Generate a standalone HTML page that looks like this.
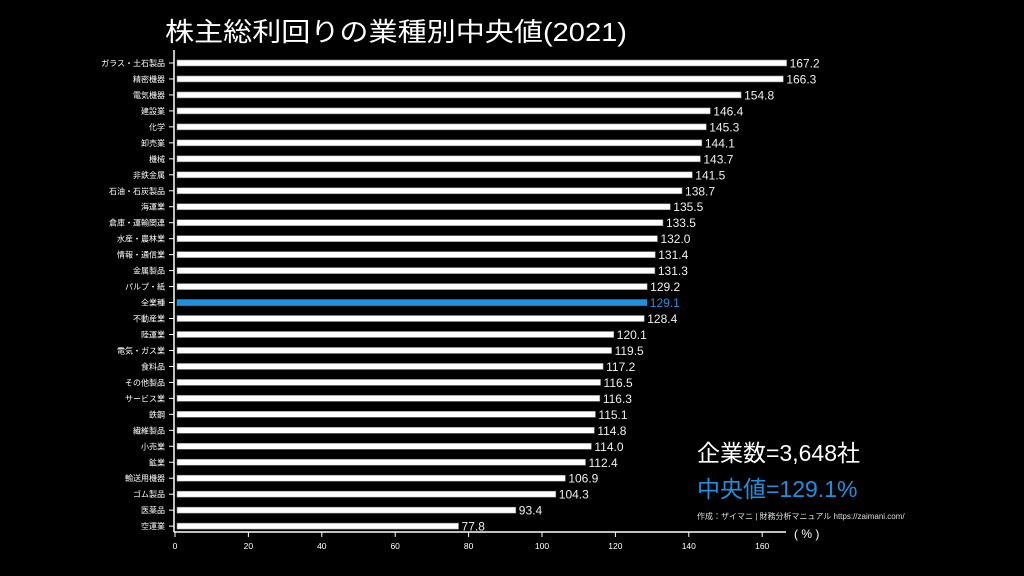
<!DOCTYPE html>
<html><head><meta charset="utf-8"><style>
html,body{margin:0;padding:0;background:#000;width:1024px;height:576px;overflow:hidden}
svg{display:block;font-family:"Liberation Sans","Noto Sans CJK JP",sans-serif}
</style></head><body>
<svg id="c" width="1024" height="576" viewBox="0 0 1024 576" xmlns="http://www.w3.org/2000/svg">
<rect width="1024" height="576" fill="#000"/>
<text x="165" y="41" fill="#fff" font-size="26" textLength="462" lengthAdjust="spacingAndGlyphs">株主総利回りの業種別中央値(2021)</text>
<line x1="174" y1="50" x2="174" y2="532" stroke="#fff" stroke-width="1.5"/>
<line x1="174" y1="532" x2="786" y2="532" stroke="#fff" stroke-width="1.5"/>
<text x="794" y="538" fill="#fff" font-size="12">( % )</text>
<text x="697" y="461" fill="#fff" font-size="23">企業数=3,648社</text>
<text x="697" y="497" fill="#1e90e0" font-size="23">中央値=129.1%</text>
<text x="697" y="519" fill="#ddd" font-size="8">作成：ザイマニ | 財務分析マニュアル https://zaimani.com/</text>
<g id="g"></g>
</svg>
<script>
var d=[["ガラス・土石製品",167.2],["精密機器",166.3],["電気機器",154.8],["建設業",146.4],["化学",145.3],["卸売業",144.1],["機械",143.7],["非鉄金属",141.5],["石油・石炭製品",138.7],["海運業",135.5],["倉庫・運輸関連",133.5],["水産・農林業",132.0],["情報・通信業",131.4],["金属製品",131.3],["パルプ・紙",129.2],["全業種",129.1],["不動産業",128.4],["陸運業",120.1],["電気・ガス業",119.5],["食料品",117.2],["その他製品",116.5],["サービス業",116.3],["鉄鋼",115.1],["繊維製品",114.8],["小売業",114.0],["鉱業",112.4],["輸送用機器",106.9],["ゴム製品",104.3],["医薬品",93.4],["空運業",77.8]];
var s="",k=3.67,x0=173;
d.forEach(function(r,i){var y=63+i*15.97;var w=r[1]*k;var hi=r[0]=="全業種";
s+='<rect x="'+(x0+4)+'" y="'+(y-3)+'" width="'+(w-4)+'" height="6" fill="'+(hi?'#1e90e0':'#fff')+'" stroke="'+(hi?'#1e90e0':'#888')+'" stroke-width="0.6"/>';
s+='<line x1="169" y1="'+y+'" x2="174" y2="'+y+'" stroke="#fff"/>';
s+='<text x="165" y="'+(y+3)+'" fill="#fff" font-size="8" text-anchor="end">'+r[0]+'</text>';
s+='<text x="'+(x0+w+3)+'" y="'+(y+4.5)+'" fill="'+(hi?'#1e90e0':'#eee')+'" font-size="12">'+r[1].toFixed(1)+'</text>';});
for(var t=0;t<=160;t+=20){var x=x0+2+t*k;s+='<line x1="'+x+'" y1="532" x2="'+x+'" y2="537" stroke="#fff"/><text x="'+x+'" y="549" fill="#fff" font-size="8.5" text-anchor="middle">'+t+'</text>';}
document.getElementById("g").innerHTML=s;
</script>
</body></html>
